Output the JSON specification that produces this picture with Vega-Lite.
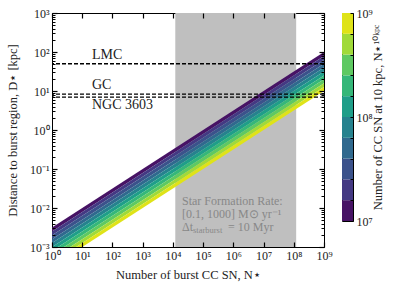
{
  "$schema": "https://vega.github.io/schema/vega-lite/v6.json",
  "padding": {"left": 5, "top": 6, "right": 2, "bottom": 2},
  "background": "white",
  "config": {
    "font": "Liberation Serif",
    "view": {"stroke": "black", "strokeWidth": 1},
    "axis": {
      "labelFont": "Liberation Serif",
      "titleFont": "Liberation Serif",
      "labelFontSize": 12,
      "titleFontSize": 12.5,
      "titleFontWeight": "normal",
      "labelColor": "#222222",
      "titleColor": "#222222",
      "domain": false,
      "grid": false,
      "labelOverlap": false,
      "labelFlush": false
    }
  },
  "datasets": {
    "sfr": [{"lo": 12000, "hi": 120000000}],
    "bands": [
      {"band": 0, "N": 1, "top": 0.0031623, "bottom": 0.0025119},
      {"band": 0, "N": 1000000000, "top": 100, "bottom": 79.433},
      {"band": 1, "N": 1, "top": 0.0025119, "bottom": 0.0019953},
      {"band": 1, "N": 1000000000, "top": 79.433, "bottom": 63.096},
      {"band": 2, "N": 1, "top": 0.0019953, "bottom": 0.0015849},
      {"band": 2, "N": 1000000000, "top": 63.096, "bottom": 50.119},
      {"band": 3, "N": 1, "top": 0.0015849, "bottom": 0.0012589},
      {"band": 3, "N": 1000000000, "top": 50.119, "bottom": 39.811},
      {"band": 4, "N": 1, "top": 0.0012589, "bottom": 0.001},
      {"band": 4, "N": 1000000000, "top": 39.811, "bottom": 31.623},
      {"band": 5, "N": 1, "top": 0.001, "bottom": 0.00079433},
      {"band": 5, "N": 1000000000, "top": 31.623, "bottom": 25.119},
      {"band": 6, "N": 1, "top": 0.00079433, "bottom": 0.00063096},
      {"band": 6, "N": 1000000000, "top": 25.119, "bottom": 19.953},
      {"band": 7, "N": 1, "top": 0.00063096, "bottom": 0.00050119},
      {"band": 7, "N": 1000000000, "top": 19.953, "bottom": 15.849},
      {"band": 8, "N": 1, "top": 0.00050119, "bottom": 0.00039811},
      {"band": 8, "N": 1000000000, "top": 15.849, "bottom": 12.589},
      {"band": 9, "N": 1, "top": 0.00039811, "bottom": 0.00031623},
      {"band": 9, "N": 1000000000, "top": 12.589, "bottom": 10}
    ],
    "refs": [
      {"label": "LMC", "N": 21, "D": 50, "pos": "above"},
      {"label": "GC", "N": 21, "D": 8.3, "pos": "above"},
      {"label": "NGC 3603", "N": 21, "D": 7.0, "pos": "below"}
    ],
    "sfrtext": [
      {"part": "l1", "text": "Star Formation Rate:", "N": 20000, "D": 0.015},
      {"part": "l2", "text": "[0.1, 1000] M⊙ yr⁻¹", "N": 20000, "D": 0.0071},
      {"part": "l3a", "text": "Δt", "N": 20000, "D": 0.0033},
      {"part": "l3b", "text": "starburst", "N": 20000, "D": 0.0033},
      {"part": "l3c", "text": "= 10 Myr", "N": 20000, "D": 0.0033}
    ],
    "cbar": [
      {"band": 0, "lo": 10000000, "hi": 15848932},
      {"band": 1, "lo": 15848932, "hi": 25118864},
      {"band": 2, "lo": 25118864, "hi": 39810717},
      {"band": 3, "lo": 39810717, "hi": 63095734},
      {"band": 4, "lo": 63095734, "hi": 100000000},
      {"band": 5, "lo": 100000000, "hi": 158489319},
      {"band": 6, "lo": 158489319, "hi": 251188643},
      {"band": 7, "lo": 251188643, "hi": 398107171},
      {"band": 8, "lo": 398107171, "hi": 630957344},
      {"band": 9, "lo": 630957344, "hi": 1000000000}
    ]
  },
  "spacing": 8,
  "hconcat": [
    {
      "width": 272,
      "height": 234,
      "layer": [
        {
          "data": {"name": "sfr"},
          "mark": {"type": "rect", "color": "#bfbfbf"},
          "encoding": {
            "x": {
              "field": "lo", "type": "quantitative",
              "scale": {"type": "log", "domain": [1, 1000000000], "nice": false},
              "axis": {
                "orient": "bottom",
                "values": [1, 10, 100, 1000, 10000, 100000, 1000000, 10000000, 100000000, 1000000000],
                "labelExpr": "'10' + (round(log(datum.value)/LN10) < 0 ? '⁻' : '') + substring('⁰¹²³⁴⁵⁶⁷⁸⁹', abs(round(log(datum.value)/LN10)), abs(round(log(datum.value)/LN10)) + 1)",
                "offset": -5, "tickSize": 5, "ticks": true, "tickColor": "black", "tickWidth": 1.2, "zindex": 1,
                "labelPadding": 3,
                "title": "Number of burst CC SN, N⋆",
                "titlePadding": 7
              }
            },
            "x2": {"field": "hi"}
          }
        },
        {
          "data": {"name": "bands"},
          "mark": {"type": "area", "clip": true, "opacity": 1},
          "encoding": {
            "x": {
              "field": "N", "type": "quantitative",
              "scale": {"type": "log", "domain": [1, 1000000000], "nice": false},
              "axis": {
                "orient": "top",
                "values": [1, 10, 100, 1000, 10000, 100000, 1000000, 10000000, 100000000, 1000000000],
                "labels": false, "offset": -5, "tickSize": 5, "ticks": true, "tickColor": "black", "tickWidth": 1.2, "zindex": 1, "title": null
              }
            },
            "y": {
              "field": "top", "type": "quantitative", "stack": null,
              "scale": {"type": "log", "domain": [0.001, 1000], "nice": false},
              "axis": {
                "orient": "left",
                "values": [0.001, 0.01, 0.1, 1, 10, 100, 1000],
                "labelExpr": "'10' + (round(log(datum.value)/LN10) < 0 ? '⁻' : '') + substring('⁰¹²³⁴⁵⁶⁷⁸⁹', abs(round(log(datum.value)/LN10)), abs(round(log(datum.value)/LN10)) + 1)",
                "offset": -5, "tickSize": 5, "ticks": true, "tickColor": "black", "tickWidth": 1.2, "zindex": 1,
                "labelPadding": 3,
                "title": "Distance to burst region, D⋆ [kpc]",
                "titlePadding": 10
              }
            },
            "y2": {"field": "bottom"},
            "color": {
              "field": "band", "type": "ordinal",
              "scale": {"domain": [0,1,2,3,4,5,6,7,8,9], "range": ["#471365", "#443983", "#3b528b", "#30698e", "#26828e", "#1f9e89", "#35b779", "#5ec962", "#a0da39", "#dfe318"]},
              "legend": null
            }
          }
        },
        {
          "data": {"name": "refs"},
          "mark": {"type": "rule", "strokeDash": [4, 2], "strokeWidth": 1.3, "color": "black"},
          "encoding": {
            "y": {
              "field": "D", "type": "quantitative",
              "scale": {"type": "log", "domain": [0.001, 1000], "nice": false},
              "axis": {
                "orient": "right",
                "values": [0.001, 0.01, 0.1, 1, 10, 100, 1000],
                "labels": false, "offset": -5, "tickSize": 5, "ticks": true, "tickColor": "black", "tickWidth": 1.2, "zindex": 1, "title": null
              }
            }
          }
        },
        {
          "data": {"name": "refs"},
          "transform": [{"filter": "datum.pos == 'above'"}],
          "mark": {"type": "text", "align": "left", "baseline": "bottom", "dy": -2, "fontSize": 14, "color": "#222222", "font": "Liberation Serif"},
          "encoding": {
            "x": {"field": "N", "type": "quantitative", "scale": {"type": "log", "domain": [1, 1000000000], "nice": false}, "axis": null},
            "y": {
              "field": "D", "type": "quantitative", "scale": {"type": "log", "domain": [0.001, 1000], "nice": false},
              "axis": {
                "orient": "left",
                "values": [0.002,0.003,0.004,0.005,0.006,0.007,0.008,0.009,0.02,0.03,0.04,0.05,0.06,0.07,0.08,0.09,0.2,0.3,0.4,0.5,0.6,0.7,0.8,0.9,2,3,4,5,6,7,8,9,20,30,40,50,60,70,80,90,200,300,400,500,600,700,800,900],
                "labels": false, "offset": -3, "tickSize": 3, "ticks": true, "tickColor": "black", "tickWidth": 1, "zindex": 1, "title": null
              }
            },
            "text": {"field": "label"}
          }
        },
        {
          "data": {"name": "refs"},
          "transform": [{"filter": "datum.pos == 'below'"}],
          "mark": {"type": "text", "align": "left", "baseline": "top", "dy": 1, "fontSize": 14, "color": "#222222", "font": "Liberation Serif"},
          "encoding": {
            "x": {"field": "N", "type": "quantitative", "scale": {"type": "log", "domain": [1, 1000000000], "nice": false}, "axis": null},
            "y": {
              "field": "D", "type": "quantitative", "scale": {"type": "log", "domain": [0.001, 1000], "nice": false},
              "axis": {
                "orient": "right",
                "values": [0.002,0.003,0.004,0.005,0.006,0.007,0.008,0.009,0.02,0.03,0.04,0.05,0.06,0.07,0.08,0.09,0.2,0.3,0.4,0.5,0.6,0.7,0.8,0.9,2,3,4,5,6,7,8,9,20,30,40,50,60,70,80,90,200,300,400,500,600,700,800,900],
                "labels": false, "offset": -3, "tickSize": 3, "ticks": true, "tickColor": "black", "tickWidth": 1, "zindex": 1, "title": null
              }
            },
            "text": {"field": "label"}
          }
        },
        {
          "data": {"name": "sfrtext"},
          "transform": [{"filter": "datum.part == 'l1' || datum.part == 'l2' || datum.part == 'l3a'"}],
          "mark": {"type": "text", "align": "left", "baseline": "middle", "fontSize": 12, "color": "#888888", "font": "Liberation Serif"},
          "encoding": {
            "x": {"field": "N", "type": "quantitative", "scale": {"type": "log", "domain": [1, 1000000000], "nice": false}, "axis": null},
            "y": {"field": "D", "type": "quantitative", "scale": {"type": "log", "domain": [0.001, 1000], "nice": false}, "axis": null},
            "text": {"field": "text"}
          }
        },
        {
          "data": {"name": "sfrtext"},
          "transform": [{"filter": "datum.part == 'l3b'"}],
          "mark": {"type": "text", "align": "left", "baseline": "middle", "dx": 11, "dy": 3, "fontSize": 8.5, "color": "#888888", "font": "Liberation Serif"},
          "encoding": {
            "x": {"field": "N", "type": "quantitative", "scale": {"type": "log", "domain": [1, 1000000000], "nice": false}, "axis": null},
            "y": {"field": "D", "type": "quantitative", "scale": {"type": "log", "domain": [0.001, 1000], "nice": false}, "axis": null},
            "text": {"field": "text"}
          }
        },
        {
          "data": {"name": "sfrtext"},
          "transform": [{"filter": "datum.part == 'l3c'"}],
          "mark": {"type": "text", "align": "left", "baseline": "middle", "dx": 46, "fontSize": 12, "color": "#888888", "font": "Liberation Serif"},
          "encoding": {
            "x": {"field": "N", "type": "quantitative", "scale": {"type": "log", "domain": [1, 1000000000], "nice": false}, "axis": null},
            "y": {"field": "D", "type": "quantitative", "scale": {"type": "log", "domain": [0.001, 1000], "nice": false}, "axis": null},
            "text": {"field": "text"}
          }
        }
      ],
      "resolve": {"axis": {"x": "independent", "y": "independent"}}
    },
    {
      "width": 11,
      "height": 208,
      "data": {"name": "cbar"},
      "mark": {"type": "rect"},
      "encoding": {
        "y": {
          "field": "lo", "type": "quantitative",
          "scale": {"type": "log", "domain": [10000000, 1000000000], "nice": false},
          "axis": {
            "orient": "right",
            "values": [10000000, 15848932, 25118864, 39810717, 63095734, 100000000, 158489319, 251188643, 398107171, 630957344, 1000000000],
            "labelExpr": "abs(log(datum.value)/LN10 - round(log(datum.value)/LN10)) < 0.001 ? '10' + substring('⁰¹²³⁴⁵⁶⁷⁸⁹', round(log(datum.value)/LN10), round(log(datum.value)/LN10) + 1) : ''",
            "offset": -3, "tickSize": 3, "ticks": true, "tickColor": "black", "tickWidth": 1, "zindex": 1,
            "labelPadding": 3,
            "title": "Number of CC SN at 10 kpc, N⋆¹⁰ᵏᵖᶜ",
            "titleAngle": 270,
            "titleBaseline": "bottom",
            "titlePadding": 12
          }
        },
        "y2": {"field": "hi"},
        "color": {
          "field": "band", "type": "ordinal",
          "scale": {"domain": [0,1,2,3,4,5,6,7,8,9], "range": ["#471365", "#443983", "#3b528b", "#30698e", "#26828e", "#1f9e89", "#35b779", "#5ec962", "#a0da39", "#dfe318"]},
          "legend": null
        }
      }
    }
  ]
}
